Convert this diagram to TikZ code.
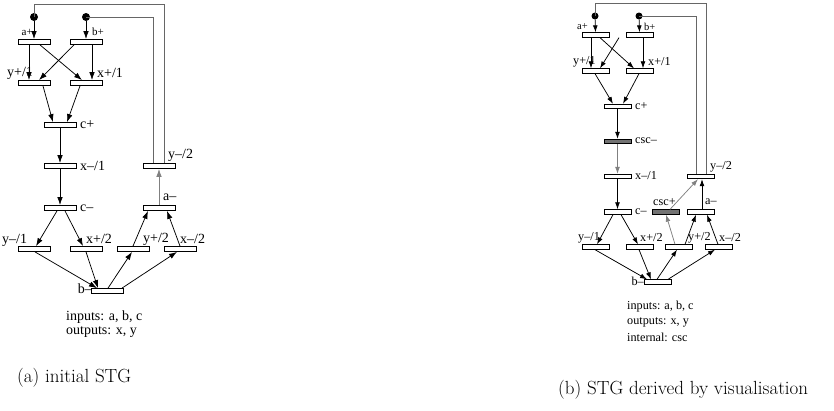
\documentclass[tikz,border=0pt]{standalone}
\usepackage{fontspec}
\newfontfamily\tms{Liberation Serif}
\usetikzlibrary{arrows.meta}

\tikzset{
  lbar/.style={draw, fill=white, line width=0.8pt, rectangle, inner sep=0pt,
               minimum width=32pt, minimum height=5pt},
  rbar/.style={draw, fill=white, line width=0.8pt, rectangle, inner sep=0pt,
               minimum width=27pt, minimum height=4.5pt},
  intbar/.style={fill=black!55},
  token/.style={circle, fill=black, inner sep=0pt},
  ltok/.style={token, minimum size=8pt},
  rtok/.style={token, minimum size=7pt},
  larc/.style={-{Latex[length=8pt,width=5.5pt]}, line width=0.75pt},
  rarc/.style={-{Latex[length=7pt,width=4.8pt]}, line width=0.75pt},
  grey/.style={draw=black!50, color=black!50},
  fb/.style={line width=0.8pt, draw=black!60},
  llbl/.style={inner sep=0pt, font=\tms\fontsize{14}{15}\selectfont},
  lsml/.style={inner sep=0pt, font=\tms\fontsize{11}{12}\selectfont},
  rlbl/.style={inner sep=0pt, font=\tms\fontsize{12.2}{13}\selectfont},
  rsml/.style={inner sep=0pt, font=\tms\fontsize{10.5}{11}\selectfont},
  capt/.style={inner sep=0pt, font=\fontsize{19}{21}\selectfont},
}

\begin{document}
\begin{tikzpicture}[x=1pt, y=-1pt]
\useasboundingbox (0,0) rectangle (834,410);

% ---------------- left net: initial STG ----------------
\node[ltok] (LtA) at (34,17) {};
\node[ltok] (LtB) at (86,17) {};

\node[lbar] (LAp)  at (34,42) {};
\node[lbar] (LBp)  at (86,42) {};
\node[lbar] (LYp1) at (34,83) {};
\node[lbar] (LXp1) at (86,83) {};
\node[lbar] (LCp)  at (60,125) {};
\node[lbar] (LXm1) at (60,166) {};
\node[lbar] (LYm2) at (159,166) {};
\node[lbar] (LCm)  at (60,208) {};
\node[lbar] (LAm)  at (159,208) {};
\node[lbar] (LYm1) at (34,249) {};
\node[lbar] (LXp2) at (86,249) {};
\node[lbar] (LYp2) at (133,249) {};
\node[lbar] (LXm2) at (180,249) {};
\node[lbar] (LBm)  at (107,291) {};

\node[lsml, anchor=east] (LlAp) at (33,32) {a+};
\node[lsml, anchor=west] (LlBp) at (92,32) {b+};
\node[llbl, anchor=west] (LlYp1) at (7,73) {y+/1};
\node[llbl, anchor=west] (LlXp1) at (97,73) {x+/1};
\node[llbl, anchor=west] (LlCp) at (80,125) {c+};
\node[llbl, anchor=west] (LlXm1) at (80,166) {x–/1};
\node[llbl, anchor=west] (LlYm2) at (168,155) {y–/2};
\node[llbl, anchor=west] (LlCm) at (80,208) {c–};
\node[llbl, anchor=west] (LlAm) at (163,197) {a–};
\node[llbl, anchor=west] (LlYm1) at (2,240) {y–/1};
\node[llbl, anchor=west] (LlXp2) at (86,239) {x+/2};
\node[llbl, anchor=west] (LlYp2) at (143,239) {y+/2};
\node[llbl, anchor=west] (LlXm2) at (180,239) {x–/2};
\node[llbl, anchor=east] (LlBm) at (92,289) {b–};
\node[llbl, anchor=west] (LIn) at (66,317) {inputs: a, b, c};
\node[llbl, anchor=west] (LOut) at (66,332) {outputs: x, y};
\node[capt, anchor=west] (LCap) at (17,378) {(a) initial STG};

% feedback from y-/2 to the initial marking
\coordinate (LTop) at (0,4);
\draw[fb] (LtA.center) -- (LtA.center |- LTop) -| ([xshift=5pt]LYm2.north);
\draw[fb] (LtB.center) -| ([xshift=-6pt]LYm2.north);

\draw[larc] (LtA) -- (LAp.north);
\draw[larc] (LtB) -- (LBp.north);
\draw[larc] ([xshift=-5pt]LAp.south) -- ([xshift=-5pt]LYp1.north);
\draw[larc] ([xshift=6pt]LAp.south) -- ([xshift=-4pt]LXp1.north);
\draw[larc] ([xshift=-12pt]LBp.south) -- ([xshift=5pt]LYp1.north);
\draw[larc] ([xshift=6pt]LBp.south) -- ([xshift=6pt]LXp1.north);
\draw[larc] ([xshift=9pt]LYp1.south) -- ([xshift=-7pt]LCp.north);
\draw[larc] ([xshift=-6pt]LXp1.south) -- ([xshift=7pt]LCp.north);
\draw[larc] (LCp.south) -- (LXm1.north);
\draw[larc] (LXm1.south) -- (LCm.north);
\draw[larc] ([xshift=-3pt]LCm.south) -- ([xshift=2pt]LYm1.north);
\draw[larc] ([xshift=5pt]LCm.south) -- ([xshift=-3pt]LXp2.north);
\draw[larc] ([xshift=1pt]LYm1.south) -- ([xshift=-10pt]LBm.north);
\draw[larc] (LXp2.south) -- ([xshift=-9pt]LBm.north);
\draw[larc] ([xshift=1pt]LBm.north) -- ([xshift=-1pt]LYp2.south);
\draw[larc] ([xshift=15pt]LBm.north) -- ([xshift=-3pt]LXm2.south);
\draw[larc] (LYp2.north) -- ([xshift=-11pt]LAm.south);
\draw[larc] (LXm2.north) -- ([xshift=8pt]LAm.south);
\draw[larc, grey] (LAm.north) -- (LYm2.south);

% ---------------- right net: after csc insertion ----------------
\node[rtok] (RtA) at (595,16) {};
\node[rtok] (RtB) at (639,16) {};

\node[rbar] (RAp)  at (595.5,35) {};
\node[rbar] (RBp)  at (639.5,35) {};
\node[rbar] (RYp1) at (595.5,71) {};
\node[rbar] (RXp1) at (639.5,71) {};
\node[rbar] (RCp)  at (617.5,106.5) {};
\node[rbar, intbar] (RCSm) at (617.5,141.5) {};
\node[rbar] (RXm1) at (617.5,176.5) {};
\node[rbar] (RYm2) at (701,176.5) {};
\node[rbar] (RCm)  at (617.5,212) {};
\node[rbar, intbar] (RCSp) at (666,212) {};
\node[rbar] (RAm)  at (701,212) {};
\node[rbar] (RYm1) at (595.5,247) {};
\node[rbar] (RXp2) at (640,247) {};
\node[rbar] (RYp2) at (679,247) {};
\node[rbar] (RXm2) at (719,247) {};
\node[rbar] (RBm)  at (657.5,282) {};

\node[rsml, anchor=east] (RlAp) at (588,27) {a+};
\node[rsml, anchor=west] (RlBp) at (644,27) {b+};
\node[rlbl, anchor=west] (RlYp1) at (573,62) {y+/1};
\node[rlbl, anchor=west] (RlXp1) at (648,62) {x+/1};
\node[rlbl, anchor=west] (RlCp) at (635,106) {c+};
\node[rlbl, anchor=west] (RlCSm) at (635,141) {csc–};
\node[rlbl, anchor=west] (RlXm1) at (635,176) {x–/1};
\node[rlbl, anchor=west] (RlYm2) at (710,167) {y–/2};
\node[rlbl, anchor=west] (RlCm) at (635,212) {c–};
\node[rlbl, anchor=west] (RlCSp) at (653,202) {csc+};
\node[rlbl, anchor=west] (RlAm) at (705,202) {a–};
\node[rlbl, anchor=west] (RlYm1) at (578,238) {y–/1};
\node[rlbl, anchor=west] (RlXp2) at (640,238) {x+/2};
\node[rlbl, anchor=west] (RlYp2) at (688,238) {y+/2};
\node[rlbl, anchor=west] (RlXm2) at (719,238) {x–/2};
\node[rlbl, anchor=east] (RlBm) at (644,281) {b–};
\node[rlbl, anchor=west] (RIn) at (627,307) {inputs: a, b, c};
\node[rlbl, anchor=west] (ROut) at (627,322) {outputs: x, y};
\node[rlbl, anchor=west] (RInt) at (627,337) {internal: csc};
\node[capt, anchor=west] (RCap) at (558,390) {(b) STG derived by visualisation};

\coordinate (RTop) at (0,3.3);
\draw[fb] (RtA.center) -- (RtA.center |- RTop) -| ([xshift=5pt]RYm2.north);
\draw[fb] (RtB.center) -| ([xshift=-5pt]RYm2.north);

\draw[rarc] (RtA) -- (RAp.north);
\draw[rarc] (RtB) -- (RBp.north);
\draw[rarc] ([xshift=-4.5pt]RAp.south) -- ([xshift=-4.5pt]RYp1.north);
\draw[rarc] ([xshift=4.5pt]RAp.south) -- ([xshift=-5.5pt]RXp1.north);
\draw[rarc] ([xshift=-20.5pt]RBp.south) -- ([xshift=4.5pt]RYp1.north);
\draw[rarc] ([xshift=3.5pt]RBp.south) -- ([xshift=3.5pt]RXp1.north);
\draw[rarc] ([xshift=-0.5pt]RYp1.south) -- ([xshift=-4.5pt]RCp.north);
\draw[rarc] ([xshift=-0.5pt]RXp1.south) -- ([xshift=5.5pt]RCp.north);
\draw[rarc] (RCp.south) -- (RCSm.north);
\draw[rarc, grey] (RCSm.south) -- (RXm1.north);
\draw[rarc] (RXm1.south) -- (RCm.north);
\draw[rarc] ([xshift=-4.5pt]RCm.south) -- ([xshift=1.5pt]RYm1.north);
\draw[rarc] ([xshift=3.5pt]RCm.south) -- ([xshift=-2pt]RXp2.north);
\draw[rarc] ([xshift=-0.5pt]RYm1.south) -- ([xshift=-10.5pt]RBm.north);
\draw[rarc] ([xshift=-1pt]RXp2.south) -- ([xshift=-6.5pt]RBm.north);
\draw[rarc] ([xshift=-0.5pt]RBm.north) -- ([xshift=-2pt]RYp2.south);
\draw[rarc] ([xshift=10.5pt]RBm.north) -- ([xshift=-4pt]RXm2.south);
\draw[rarc, grey] ([xshift=-4pt]RYp2.north) -- (RCSp.south);
\draw[rarc] ([xshift=6pt]RYp2.north) -- ([xshift=-5pt]RAm.south);
\draw[rarc] ([xshift=-1pt]RXm2.north) -- ([xshift=6pt]RAm.south);
\draw[rarc] ([xshift=1pt]RAm.north) -- ([xshift=1pt]RYm2.south);
\draw[rarc, grey] ([xshift=4pt]RCSp.north) -- ([xshift=-3pt]RYm2.south);

\end{tikzpicture}
\end{document}
